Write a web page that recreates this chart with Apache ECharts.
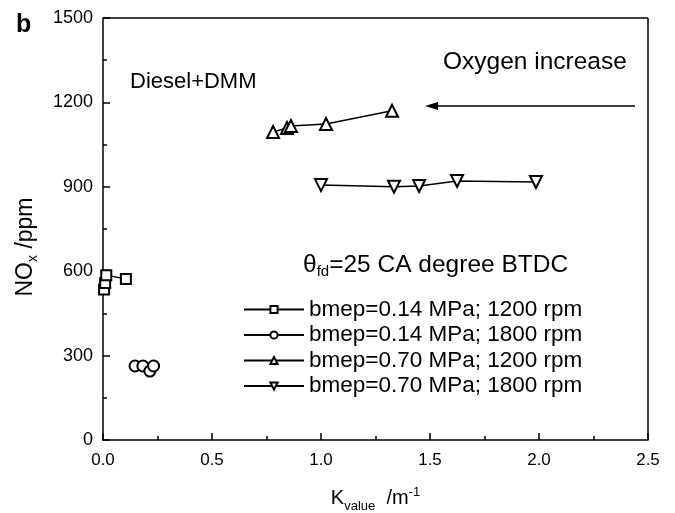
<!DOCTYPE html>
<html>
<head>
<meta charset="utf-8">
<script src="https://cdn.jsdelivr.net/npm/echarts@6/dist/echarts.min.js"></script>
<style>
  html, body { margin: 0; padding: 0; background: #fff; }
  #main { width: 675px; height: 513px; }
</style>
</head>
<body>
<div id="main"></div>
<script>
  // data
  var seriesNames = ['bmep=0.14 MPa; 1200 rpm', 'bmep=0.14 MPa; 1800 rpm',
                     'bmep=0.70 MPa; 1200 rpm', 'bmep=0.70 MPa; 1800 rpm'];
  var lowLoad1200 = [[0.005, 535], [0.01, 558], [0.015, 586], [0.105, 572]];
  var lowLoad1800 = [[0.147, 263], [0.183, 263], [0.215, 245], [0.232, 263]];
  var highLoad1200 = [[0.78, 1095], [0.844, 1109], [0.862, 1116], [1.023, 1123], [1.326, 1170]];
  var highLoad1800 = [[1.0, 906], [1.335, 900], [1.45, 903], [1.624, 921], [1.986, 917]];
  var xTicks = [0, 2.5, 0.5];
  var yTicks = [0, 1500, 300];

  var font = 'Liberation Sans, Arial, sans-serif';
  var myChart = echarts.init(document.getElementById('main'), null, { renderer: 'canvas' });

  function mkSeries(name, data, symbol, rotate, size) {
    return {
      name: name,
      type: 'line',
      data: data,
      symbol: symbol,
      symbolSize: size,
      symbolRotate: rotate,
      showAllSymbol: true,
      lineStyle: { color: '#000', width: 1.5 },
      itemStyle: { color: '#fff', borderColor: '#000', borderWidth: 2 },
      z: 3
    };
  }

  var option = {
    backgroundColor: '#fff',
    animation: false,
    grid: { left: 103, right: 27, top: 18, bottom: 73, outerBoundsMode: 'none', containLabel: false },
    legend: {
      orient: 'vertical',
      left: 238,
      top: 293,
      itemWidth: 60,
      itemHeight: 9,
      itemGap: 2.5,
      textStyle: { fontFamily: font, fontSize: 22.5, color: '#000' },
      data: seriesNames
    },
    xAxis: {
      type: 'value',
      min: xTicks[0], max: xTicks[1], interval: xTicks[2],
      name: '{a|K}{sub|value}{a|  /m}{sup|-1}',
      nameLocation: 'middle',
      nameGap: 44,
      nameTextStyle: {
        rich: {
          a: { fontFamily: font, fontSize: 20, color: '#000' },
          sub: { fontFamily: font, fontSize: 13, color: '#000', padding: [16, 0, 0, 0] },
          sup: { fontFamily: font, fontSize: 13, color: '#000', padding: [0, 0, 12, 0] }
        }
      },
      axisLine: { onZero: false, lineStyle: { color: '#000', width: 1.5 } },
      axisTick: { inside: true, length: 7, lineStyle: { color: '#000', width: 1.5 } },
      minorTick: { show: true, splitNumber: 2, length: 4, lineStyle: { color: '#000', width: 1.5 } },
      axisLabel: {
        fontFamily: font, fontSize: 17, color: '#000', margin: 12,
        formatter: function (v) { return v.toFixed(1); }
      },
      splitLine: { show: false }
    },
    yAxis: {
      type: 'value',
      min: yTicks[0], max: yTicks[1], interval: yTicks[2],
      name: '{a|NO}{sub|x}{a| /ppm}',
      nameLocation: 'middle',
      nameRotate: 90,
      nameGap: 63,
      nameTextStyle: {
        padding: [0, 36, 0, 0],
        rich: {
          a: { fontFamily: font, fontSize: 23, color: '#000' },
          sub: { fontFamily: font, fontSize: 14, color: '#000', padding: [15, 0, 0, 0] }
        }
      },
      axisLine: { lineStyle: { color: '#000', width: 1.5 } },
      axisTick: { inside: true, length: 7, lineStyle: { color: '#000', width: 1.5 } },
      minorTick: { show: true, splitNumber: 2, length: 4, lineStyle: { color: '#000', width: 1.5 } },
      axisLabel: {
        fontFamily: font, fontSize: 18, color: '#000', margin: 10,
        formatter: function (v) { return String(v); }
      },
      splitLine: { show: false }
    },
    graphic: [
      // frame top and right
      { type: 'line', shape: { x1: 103, y1: 18, x2: 648, y2: 18 }, style: { stroke: '#000', lineWidth: 1.5 } },
      { type: 'line', shape: { x1: 648, y1: 18, x2: 648, y2: 440 }, style: { stroke: '#000', lineWidth: 1.5 } },
      { type: 'text', left: 16, top: 13, style: { text: 'b', font: 'bold 25px ' + font, fill: '#000' } },
      { type: 'text', left: 130, top: 71, style: { text: 'Diesel+DMM', font: '22px ' + font, fill: '#000' } },
      { type: 'text', left: 443, top: 50, style: { text: 'Oxygen increase', font: '24.5px ' + font, fill: '#000' } },
      { type: 'line', shape: { x1: 432, y1: 106, x2: 635, y2: 106 }, style: { stroke: '#000', lineWidth: 1.5 } },
      { type: 'polygon', shape: { points: [[425, 106], [438, 102], [438, 110]] }, style: { fill: '#000' } },
      {
        type: 'text', left: 303, top: 253,
        style: {
          text: '{a|θ}{sub|fd}{a|=25 CA degree BTDC}',
          rich: {
            a: { fontFamily: font, fontSize: 24.5, fill: '#000' },
            sub: { fontFamily: font, fontSize: 15, fill: '#000', padding: [13, 0, 0, 0] }
          }
        }
      }
    ],
    series: [
      mkSeries(seriesNames[0], lowLoad1200, 'rect', 0, 10),
      mkSeries(seriesNames[1], lowLoad1800, 'circle', 0, 11),
      mkSeries(seriesNames[2], highLoad1200, 'triangle', 0, 12),
      mkSeries(seriesNames[3], highLoad1800, 'triangle', 180, 12)
    ]
  };

  myChart.setOption(option);
</script>
</body>
</html>
